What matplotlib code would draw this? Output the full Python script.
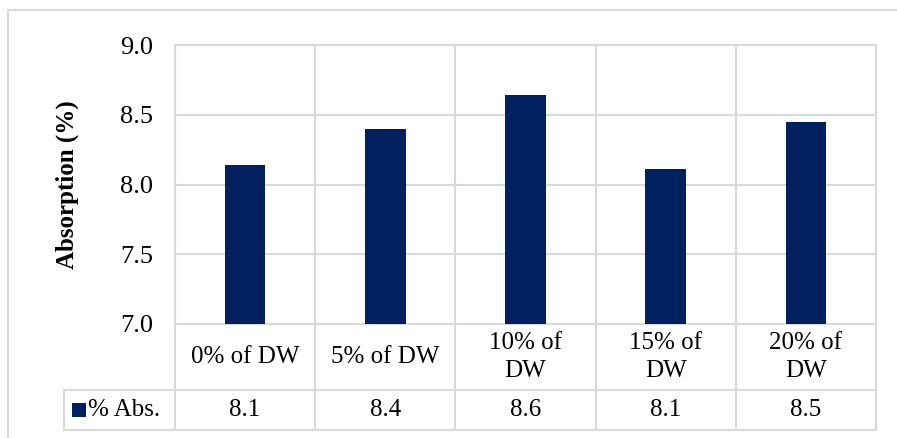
import matplotlib.pyplot as plt
from matplotlib.patches import Rectangle
import matplotlib.transforms as mtransforms

categories = ['0% of DW', '5% of DW', '10% of\nDW', '15% of\nDW', '20% of\nDW']
absorption = [8.14, 8.40, 8.64, 8.11, 8.45]
table_vals = ['8.1', '8.4', '8.6', '8.1', '8.5']
series_name = '% Abs.'
yticks = [7.0, 7.5, 8.0, 8.5, 9.0]

W, H = 897, 438
bar_col = '#002060'
grid_col = '#d9d9d9'

plt.rcParams['font.family'] = ['Liberation Serif', 'DejaVu Serif']

fig = plt.figure(figsize=(W / 100, H / 100), dpi=100)
ax = fig.add_axes([175 / W, 1 - 324 / H, (876 - 175) / W, (324 - 45) / H])

x = list(range(len(categories)))
ax.bar(x, [v - 7.0 for v in absorption], bottom=7.0, width=0.29, color=bar_col, zorder=3)

ax.set_xlim(-0.5, len(categories) - 0.5)
ax.set_ylim(7.0, 9.0)
ax.set_yticks(yticks)
ax.set_yticklabels(['%.1f' % t for t in yticks], fontsize=19)
ax.tick_params(axis='y', length=0, pad=16)
ax.set_xticks([])
ax.grid(axis='y', color=grid_col, linewidth=1.5, zorder=0)
for s in ax.spines.values():
    s.set_color(grid_col)
    s.set_linewidth(1.5)
ax.set_ylabel('Absorption (%)', fontsize=18, fontweight='bold')
ax.yaxis.set_label_coords((79 - 175) / 701, 0.5)

# data table below the axis
tr = mtransforms.blended_transform_factory(ax.transData, ax.transAxes)
row1 = (324 - 390) / 279
row2 = (324 - 430) / 279
leg_left = (64 - 175) / ((876 - 175) / len(categories)) - 0.5
lw = 1.5
for b in [i - 0.5 for i in range(len(categories) + 1)]:
    ax.plot([b, b], [1, row2], color=grid_col, lw=lw, transform=tr, clip_on=False, zorder=1)
ax.plot([leg_left, len(categories) - 0.5], [row1, row1], color=grid_col, lw=lw, transform=tr, clip_on=False)
ax.plot([leg_left, len(categories) - 0.5], [row2, row2], color=grid_col, lw=lw, transform=tr, clip_on=False)
ax.plot([leg_left, leg_left], [row1, row2], color=grid_col, lw=lw, transform=tr, clip_on=False)

for i, (c, v) in enumerate(zip(categories, table_vals)):
    ax.text(i, row1 / 2, c, transform=tr, ha='center', va='center', fontsize=18, linespacing=1.3)
    ax.text(i, (row1 + row2) / 2, v, transform=tr, ha='center', va='center', fontsize=18)

# legend key cell
fig.patches.append(Rectangle((72 / W, 1 - 417 / H), 14 / W, 14 / H, transform=fig.transFigure,
                             facecolor=bar_col, edgecolor='none'))
fig.text(88 / W, 1 - 410 / H, series_name, ha='left', va='center', fontsize=18)

# outer chart border
fig.patches.append(Rectangle((8 / W, -0.1), 1.2, 1.1 - 10 / H, transform=fig.transFigure,
                             facecolor='none', edgecolor=grid_col, lw=1.5))

fig.savefig('out.png', dpi=100)
